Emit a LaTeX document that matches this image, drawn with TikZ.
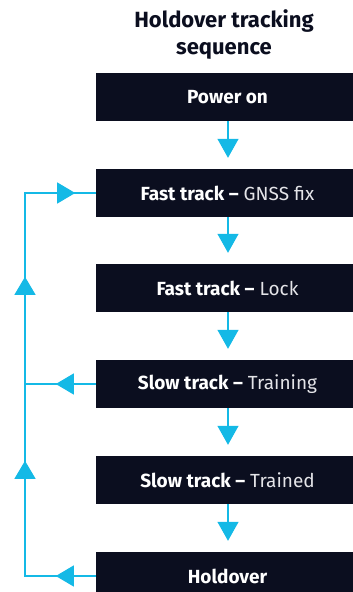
\documentclass[tikz,border=0pt]{standalone}
\usepackage{fontspec}
\setmainfont{Fira Sans}
\usetikzlibrary{arrows.meta,decorations.markings}
\definecolor{navy}{RGB}{11,14,31}
\definecolor{cyanc}{RGB}{20,185,230}
\definecolor{lightt}{RGB}{228,228,232}
\tikzset{
  stepbox/.style={fill=navy, minimum width=263pt, minimum height=48pt, inner sep=0pt,
    text=white, font=\fontsize{19}{22}\selectfont},
  flow/.style={draw=cyanc, line width=1.2pt},
  tipa/.tip={Triangle[length=18pt,width=21pt]},
  downarrow/.style={flow, -{Triangle[length=19pt,width=21pt]}, shorten >=11pt},
}
\newcommand{\lt}[1]{\textcolor{lightt}{#1}}
\begin{document}
\begin{tikzpicture}[x=1pt,y=-1pt]
\useasboundingbox (0,0) rectangle (353,592);
\clip (0,0) rectangle (353,592);
\node[text=navy, font=\bfseries\fontsize{22}{27}\selectfont, align=center] (title) at (224,35) {Holdover tracking\\sequence};
\node[stepbox] (p) at (227.5,97) {\textbf{Power on}};
\node[stepbox] (f) at (227.5,193) {\textbf{Fast track –} \lt{GNSS fix}};
\node[stepbox] (l) at (227.5,288) {\textbf{Fast track –} \lt{Lock}};
\node[stepbox] (s) at (227.5,384) {\textbf{Slow track –} \lt{Training}};
\node[stepbox] (t) at (227.5,480) {\textbf{Slow track –} \lt{Trained}};
\node[stepbox] (h) at (227.5,576) {\textbf{Holdover}};
\coordinate (L) at (25,0);
\coordinate (D) at (228,0);
\foreach \a/\b in {p/f,f/l,l/s,s/t,t/h}{
  \draw[downarrow] (\a.south -| D) -- (\b.north -| D);
}
\draw[flow, postaction={decorate}, decoration={markings,
   mark=at position 40pt with {\arrow[cyanc]{tipa}},
   mark=at position 186pt with {\arrow[cyanc]{tipa}},
   mark=at position 370pt with {\arrow[cyanc]{tipa}},
   mark=at position 504pt with {\arrow[cyanc]{tipa}}}]
  (h.west) -- (h.west -| L) -- (f.west -| L) -- (f.west);
\draw[flow, postaction={decorate}, decoration={markings,
   mark=at position 40pt with {\arrow[cyanc]{tipa}}}]
  (s.west) -- (s.west -| L);
\end{tikzpicture}
\end{document}
